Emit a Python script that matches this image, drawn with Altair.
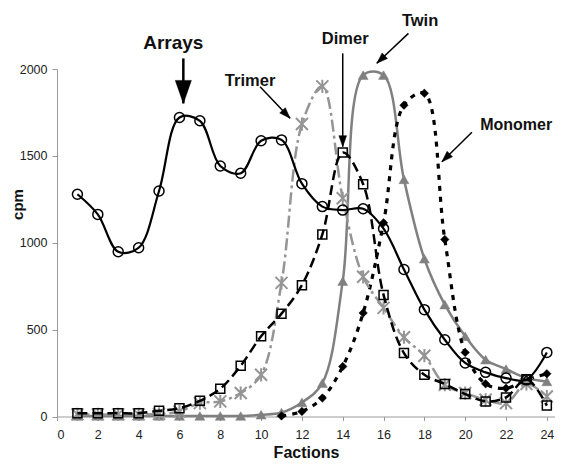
import altair as alt
import pandas as pd

# ---- data ----
fractions = list(range(1, 25))
arrays = [1279, 1163, 948, 971, 1298, 1721, 1702, 1442, 1400, 1587, 1592, 1340,
          1208, 1188, 1196, 1081, 846, 615, 442, 308, 254, 221, 211, 369]
dimer = [19, 19, 19, 19, 33, 48, 90, 160, 292, 462, 592, 756,
         1048, 1519, 1337, 700, 365, 240, 187, 129, 87, 110, 215, 63]
trimer = [12, 12, 12, 12, 15, 29, 77, 87, 135, 240, 769, 1683,
          1900, 1256, 804, 625, 456, 350, 183, 135, 96, 77, 187, 115]
twin = [3, 3, 3, 3, 3, 3, 3, 3, 3, 10, 23, 81,
        192, 779, 1965, 1965, 1365, 908, 644, 462, 327, 273, 221, 202]
monomer_x = list(range(11, 25))
monomer = [3, 29, 106, 288, 596, 1115, 1792, 1860, 1019, 369, 188, 163, 211, 246]

# annotations (data coordinates)
ann_label = ["Arrays", "Trimer", "Dimer", "Twin", "Monomer"]
ann_tx = [5.70, 9.46, 14.12, 17.79, 22.50]
ann_ty = [2151, 1931, 2171, 2278, 1678]
arr_x0 = [6.19, 9.95, 14.0, 17.22, 20.33]
arr_y0 = [2061, 1898, 2090, 2205, 1636]
arr_x1 = [6.19, 11.42, 14.0, 15.67, 18.86]
arr_y1 = [1802, 1716, 1553, 2033, 1466]

# styles
ann_size = [19, 16.5, 16.5, 16.5, 16]
arr_angle = [180, 136.5, 180, 226.5, 225.6]
arr_head = [529, 121, 121, 121, 121]
arr_width = [2.5, 1.5, 1.5, 1.5, 1.5]

FONT = "Liberation Sans"
XS = alt.Scale(domain=[0, 24.4], nice=False, zero=False)
YS = alt.Scale(domain=[0, 2000], nice=False)

xenc = alt.X("x:Q", scale=XS, axis=alt.Axis(
    title="Factions", values=list(range(0, 25, 2)), grid=False, format="d",
    tickSize=4, labelPadding=8, titleY=36, titleBaseline="middle",
    titleFontSize=16, titleFontWeight="bold", labelFontSize=12.5))
yenc = alt.Y("y:Q", scale=YS, axis=alt.Axis(
    title="cpm", values=[0, 500, 1000, 1500, 2000], grid=False, format="d",
    tickSize=5, labelPadding=5, titleX=-40, titleY=135, titleAngle=270,
    titleAlign="center", titleBaseline="middle",
    titleFontSize=15, titleFontWeight="bold", labelFontSize=12.5))


def series(xs, ys, color, width, dash, shape, msize, filled, mstroke):
    df = pd.DataFrame({"x": xs, "y": ys})
    base = alt.Chart(df)
    line_kw = dict(color=color, strokeWidth=width, interpolate="catmull-rom")
    if dash:
        line_kw["strokeDash"] = dash
    line = base.mark_line(**line_kw).encode(x=xenc, y=yenc)
    if filled:
        pts = base.mark_point(shape=shape, size=msize, filled=True, fill=color,
                              stroke=color, strokeWidth=0.5, opacity=1)
    else:
        pts = base.mark_point(shape=shape, size=msize, filled=False, fill=None,
                              stroke=color, strokeWidth=mstroke, opacity=1)
    pts = pts.encode(x=xenc, y=yenc)
    return [line, pts]


ASTER = "M-1,-1L1,1M1,-1L-1,1M0,-1.1L0,1.1"
layers = []
layers += series(fractions, twin, "#808080", 2.5, None, "triangle-up", 100, True, 1)
layers += series(monomer_x, monomer, "#000000", 3.2, [5, 6], "diamond", 72, True, 1)
layers += series(fractions, trimer, "#959595", 2.5, [12, 4, 3, 4], ASTER, 144, False, 2)
layers += series(fractions, dimer, "#000000", 2.5, [10, 5], "square", 81, False, 1.5)
layers += series(fractions, arrays, "#000000", 2.2, None, "circle", 100, False, 1.5)

ann = pd.DataFrame({"label": ann_label, "tx": ann_tx, "ty": ann_ty,
                    "x0": arr_x0, "y0": arr_y0, "x1": arr_x1, "y1": arr_y1,
                    "fs": ann_size, "ang": arr_angle, "hs": arr_head, "sw": arr_width})

shafts = alt.Chart(ann).mark_rule(color="black", strokeCap="butt").encode(
    x=alt.X("x0:Q", scale=XS), y=alt.Y("y0:Q", scale=YS),
    x2="x1:Q", y2="y1:Q",
    strokeWidth=alt.StrokeWidth("sw:Q", scale=None))
heads = alt.Chart(ann).mark_point(shape="M0,0L-0.7,2L0.7,2Z", filled=True,
                                  fill="black", stroke="black", strokeWidth=0.5,
                                  opacity=1).encode(
    x=alt.X("x1:Q", scale=XS), y=alt.Y("y1:Q", scale=YS),
    angle=alt.Angle("ang:Q", scale=None),
    size=alt.Size("hs:Q", scale=None))
labels = alt.Chart(ann).mark_text(font=FONT, fontWeight="bold", color="#111111",
                                  baseline="middle", align="center").encode(
    x=alt.X("tx:Q", scale=XS), y=alt.Y("ty:Q", scale=YS),
    text="label:N",
    size=alt.Size("fs:Q", scale=None))

chart = alt.layer(*layers, shafts, heads, labels).properties(
    width=498, height=347.5,
    autosize=alt.AutoSizeParams(type="none"),
    padding={"left": 49, "top": 61, "right": 0, "bottom": 45.5},
    background="white",
).configure_view(stroke=None).configure_axis(
    domainColor="#9a9a9a", tickColor="#9a9a9a", domainWidth=1, tickWidth=1,
    labelColor="#222222", titleColor="#111111", labelFont=FONT, titleFont=FONT,
).configure_text(font=FONT)

chart.save("out.html", embed_options={"renderer": "svg", "actions": False})
